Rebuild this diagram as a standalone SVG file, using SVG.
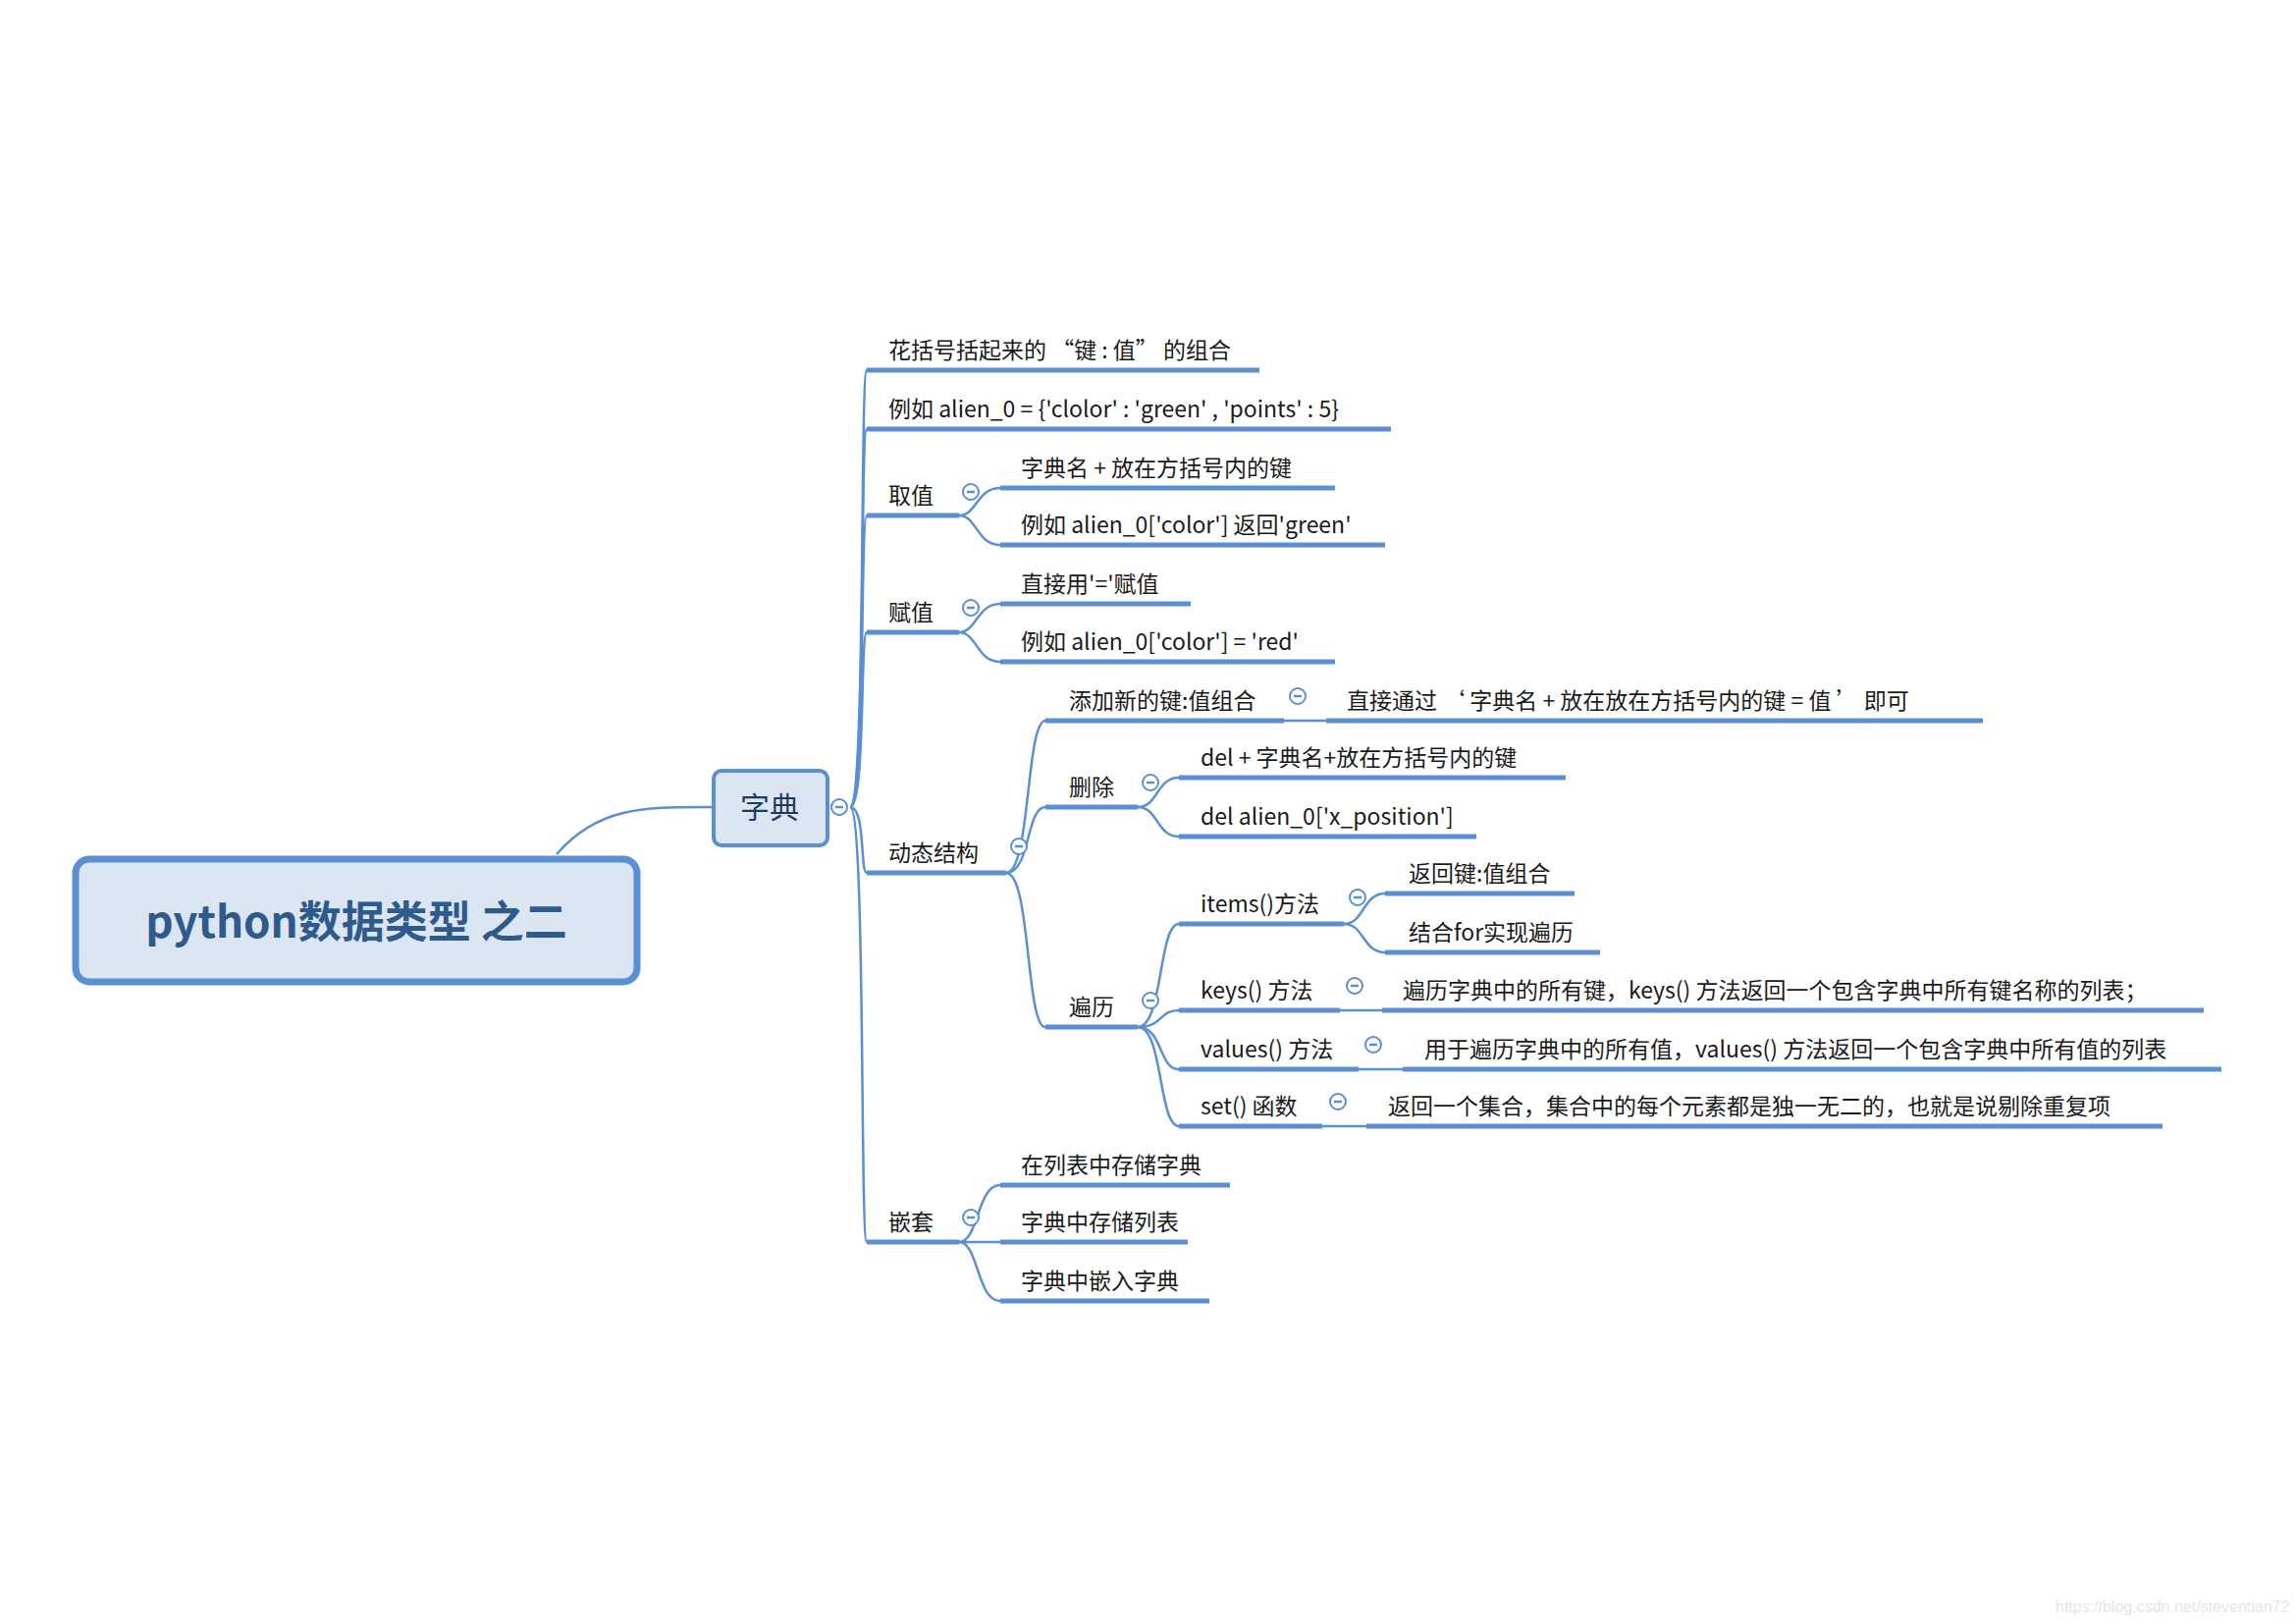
<svg xmlns="http://www.w3.org/2000/svg" width="2339" height="1654" viewBox="0 0 2339 1654">
<style>
.t{font-family:"Noto Sans CJK SC","Liberation Sans",sans-serif;font-size:23px;fill:#1a1a1a}
.u{stroke:#5b8fd3;stroke-width:5;fill:none}
.c{stroke:#5b8fd3;stroke-width:2.5;fill:none}
.k circle{fill:#fff;stroke:#5b8fd3;stroke-width:2}
.k line{stroke:#5b8fd3;stroke-width:2.5}
</style>
<rect width="2339" height="1654" fill="#fff"/>
<g id="connectors" class="c">
<path d="M567 870 C610 820 660 822 725 822"/>
<path d="M866 822 C882 822 876 377 883 377"/><path d="M866 822 C882 822 876 437 883 437"/><path d="M866 822 C882 822 876 525 883 525"/><path d="M866 822 C882 822 876 644 883 644"/><path d="M866 822 C882 822 876 889 883 889"/><path d="M866 822 C882 822 876 1265 883 1265"/>
<path d="M977 525 C995 525 995 497 1019 497"/><path d="M977 525 C995 525 995 555 1019 555"/>
<path d="M977 644 C995 644 995 615 1019 615"/><path d="M977 644 C995 644 995 674 1019 674"/>
<path d="M1025 889 C1050 889 1045 734 1065 734"/><path d="M1025 889 C1050 889 1045 822 1065 822"/><path d="M1025 889 C1050 889 1045 1046 1065 1046"/>
<path d="M1308 734 H1351"/>
<path d="M1159 822 C1180 822 1178 792 1201 792"/><path d="M1159 822 C1180 822 1178 852 1201 852"/>
<path d="M1159 1046 C1185 1046 1180 941 1201 941"/><path d="M1159 1046 C1185 1046 1180 1029 1201 1029"/><path d="M1159 1046 C1185 1046 1180 1089 1201 1089"/><path d="M1159 1046 C1185 1046 1180 1147 1201 1147"/>
<path d="M1369 941 C1390 941 1388 910 1411 910"/><path d="M1369 941 C1390 941 1388 970 1411 970"/>
<path d="M1365 1029 H1408"/><path d="M1384 1089 H1429"/><path d="M1347 1147 H1392"/>
<path d="M977 1265 C997 1265 995 1207 1019 1207"/><path d="M977 1265 C997 1265 995 1265 1019 1265"/><path d="M977 1265 C997 1265 995 1325 1019 1325"/>
</g>
<g id="root"><rect x="77" y="875" width="572" height="125" rx="14" fill="#dce6f2" stroke="#5b8fd3" stroke-width="7"/><text x="363" y="955" text-anchor="middle" style="font-family:'Noto Sans CJK SC','Liberation Sans',sans-serif;font-size:44px;font-weight:bold;fill:#2f5a8c">python数据类型 之二</text></g>
<g id="zidian"><rect x="727" y="785" width="116" height="76" rx="8" fill="#dce6f2" stroke="#5b8fd3" stroke-width="4"/><text x="784" y="833" text-anchor="middle" style="font-family:'Noto Sans CJK SC',sans-serif;font-size:30px;fill:#1f3a5f">字典</text></g>
<g id="n1"><path class="u" d="M883 377H1283"/><text class="t" x="905" y="365">花括号括起来的 “键 : 值” 的组合</text></g>
<g id="n2"><path class="u" d="M883 437H1417"/><text class="t" x="905" y="425">例如 alien_0 = {'clolor' : 'green' , 'points' : 5}</text></g>
<g id="n3"><path class="u" d="M883 525H977"/><text class="t" x="905" y="513">取值</text></g>
<g id="n3a"><path class="u" d="M1019 497H1360"/><text class="t" x="1040" y="485">字典名 + 放在方括号内的键</text></g>
<g id="n3b"><path class="u" d="M1019 555H1411"/><text class="t" x="1040" y="543">例如 alien_0['color'] 返回'green'</text></g>
<g id="n4"><path class="u" d="M883 644H977"/><text class="t" x="905" y="632">赋值</text></g>
<g id="n4a"><path class="u" d="M1019 615H1213"/><text class="t" x="1040" y="603">直接用'='赋值</text></g>
<g id="n4b"><path class="u" d="M1019 674H1360"/><text class="t" x="1040" y="662">例如 alien_0['color'] = 'red'</text></g>
<g id="n5"><path class="u" d="M883 889H1025"/><text class="t" x="905" y="877">动态结构</text></g>
<g id="n5a"><path class="u" d="M1065 734H1308"/><text class="t" x="1089" y="722">添加新的键:值组合</text></g>
<g id="n5a1"><path class="u" d="M1351 734H2020"/><text class="t" x="1372" y="722">直接通过 ‘ 字典名 + 放在放在方括号内的键 = 值 ’ 即可</text></g>
<g id="n5b"><path class="u" d="M1065 822H1159"/><text class="t" x="1089" y="810">删除</text></g>
<g id="n5b1"><path class="u" d="M1201 792H1595"/><text class="t" x="1223" y="780">del + 字典名+放在方括号内的键</text></g>
<g id="n5b2"><path class="u" d="M1201 852H1504"/><text class="t" x="1223" y="840">del alien_0['x_position']</text></g>
<g id="n5c"><path class="u" d="M1065 1046H1159"/><text class="t" x="1089" y="1034">遍历</text></g>
<g id="n5c1"><path class="u" d="M1201 941H1369"/><text class="t" x="1223" y="929">items()方法</text></g>
<g id="n5c1a"><path class="u" d="M1411 910H1604"/><text class="t" x="1435" y="898">返回键:值组合</text></g>
<g id="n5c1b"><path class="u" d="M1411 970H1630"/><text class="t" x="1435" y="958">结合for实现遍历</text></g>
<g id="n5c2"><path class="u" d="M1201 1029H1365"/><text class="t" x="1223" y="1017">keys() 方法</text></g>
<g id="n5c2a"><path class="u" d="M1408 1029H2245"/><text class="t" x="1429" y="1017">遍历字典中的所有键，keys() 方法返回一个包含字典中所有键名称的列表；</text></g>
<g id="n5c3"><path class="u" d="M1201 1089H1384"/><text class="t" x="1223" y="1077">values() 方法</text></g>
<g id="n5c3a"><path class="u" d="M1429 1089H2263"/><text class="t" x="1451" y="1077">用于遍历字典中的所有值，values() 方法返回一个包含字典中所有值的列表</text></g>
<g id="n5c4"><path class="u" d="M1201 1147H1347"/><text class="t" x="1223" y="1135">set() 函数</text></g>
<g id="n5c4a"><path class="u" d="M1392 1147H2203"/><text class="t" x="1414" y="1135">返回一个集合，集合中的每个元素都是独一无二的，也就是说剔除重复项</text></g>
<g id="n6"><path class="u" d="M883 1265H977"/><text class="t" x="905" y="1253">嵌套</text></g>
<g id="n6a"><path class="u" d="M1019 1207H1253"/><text class="t" x="1040" y="1195">在列表中存储字典</text></g>
<g id="n6b"><path class="u" d="M1019 1265H1210"/><text class="t" x="1040" y="1253">字典中存储列表</text></g>
<g id="n6c"><path class="u" d="M1019 1325H1232"/><text class="t" x="1040" y="1313">字典中嵌入字典</text></g>
<g id="toggles" class="k">
<g><circle cx="855" cy="822" r="8"/><line x1="851" y1="822" x2="859" y2="822"/></g>
<g><circle cx="989" cy="501" r="8"/><line x1="985" y1="501" x2="993" y2="501"/></g>
<g><circle cx="989" cy="619" r="8"/><line x1="985" y1="619" x2="993" y2="619"/></g>
<g><circle cx="1038" cy="862" r="8"/><line x1="1034" y1="862" x2="1042" y2="862"/></g>
<g><circle cx="989" cy="1240" r="8"/><line x1="985" y1="1240" x2="993" y2="1240"/></g>
<g><circle cx="1322" cy="709" r="8"/><line x1="1318" y1="709" x2="1326" y2="709"/></g>
<g><circle cx="1172" cy="797" r="8"/><line x1="1168" y1="797" x2="1176" y2="797"/></g>
<g><circle cx="1172" cy="1019" r="8"/><line x1="1168" y1="1019" x2="1176" y2="1019"/></g>
<g><circle cx="1383" cy="914" r="8"/><line x1="1379" y1="914" x2="1387" y2="914"/></g>
<g><circle cx="1380" cy="1004" r="8"/><line x1="1376" y1="1004" x2="1384" y2="1004"/></g>
<g><circle cx="1399" cy="1064" r="8"/><line x1="1395" y1="1064" x2="1403" y2="1064"/></g>
<g><circle cx="1363" cy="1122" r="8"/><line x1="1359" y1="1122" x2="1367" y2="1122"/></g>
</g>
<text x="2094" y="1642" style="font-family:'Liberation Sans',sans-serif;font-size:16px;fill:#e6e6e6">https://blog.csdn.net/steventian72</text>
</svg>
